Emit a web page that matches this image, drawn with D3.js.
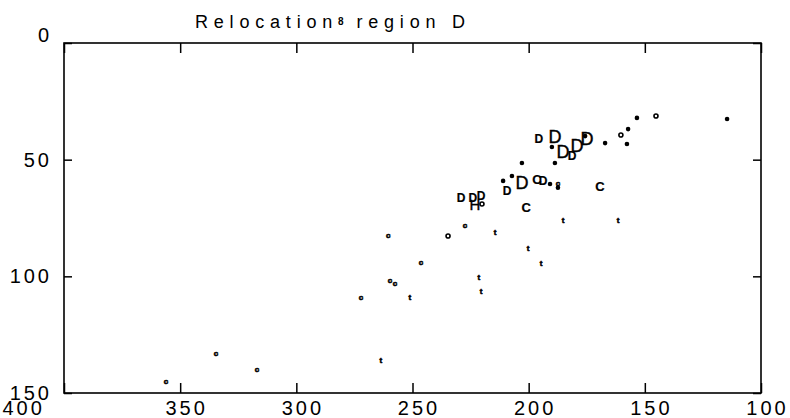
<!DOCTYPE html>
<html>
<head>
<meta charset="utf-8">
<title>Relocations region D</title>
<style>
  body { margin: 0; background: #fff; }
  svg text { font-family: "Liberation Sans", Arial, sans-serif; fill: #000; }
</style>
</head>
<body>
<script src="https://cdnjs.cloudflare.com/ajax/libs/d3/7.8.5/d3.min.js"></script>
<script>
// values: [x, y]
var bigD = [[188.7, 40.3], [185.2, 46.7], [179.2, 44.1], [174.9, 41.1], [202.9, 60.0]];
var smallD = [[195.6, 41.1], [181.3, 48.4], [209.3, 63.4], [193.8, 59.1], [229.1, 66.4], [224.0, 66.4], [220.5, 65.6]];
var letterC = [[196.4, 58.3], [201.1, 70.3], [169.3, 61.3]];
var letterH = [[223.1, 69.4]];
var dots = [[202.9, 51.4], [188.7, 51.4], [190.0, 44.6], [175.7, 39.9], [167.1, 42.9], [157.2, 36.9],
            [157.7, 43.3], [153.4, 32.1], [114.6, 32.6], [211.0, 59.1], [207.2, 57.0], [190.8, 60.4], [187.4, 62.0]];
var rings = [[160.3, 39.4], [145.2, 31.3], [220.1, 69.0], [234.7, 82.7]];
var smallC = [[260.5, 82.7], [227.4, 78.0], [246.3, 93.9], [259.7, 101.6], [257.5, 102.9], [272.2, 108.9],
              [334.6, 132.9], [316.9, 140.1], [356.1, 144.9], [187.4, 60.0]];
var smallT = [[214.5, 81.0], [200.3, 87.9], [194.7, 94.3], [185.2, 75.9], [161.5, 75.9], [221.4, 100.7],
              [220.5, 106.7], [251.1, 108.9], [263.6, 135.9]];
var xTicks = [400, 350, 300, 250, 200, 150, 100];
var yTicks = [0, 50, 100, 150];

var width = 790, height = 418;
var margin = {top: 43, right: 29, bottom: 25, left: 64};

var svg = d3.select("body").append("svg")
    .attr("width", width)
    .attr("height", height);

var x = d3.scaleLinear().domain([400, 100]).range([margin.left, width - margin.right]);
var y = d3.scaleLinear().domain([0, 150]).range([margin.top, height - margin.bottom]);

// title
var title = svg.append("text")
    .attr("x", 195)
    .attr("y", 28)
    .attr("font-size", 18)
    .attr("letter-spacing", 5.8);
title.append("tspan").text("Relocation");
title.append("tspan").attr("font-size", 10).attr("dy", -3).attr("font-weight", "bold")
    .attr("letter-spacing", 2).text("8");
title.append("tspan").attr("dy", 3).text(" region D");

// axes, ticks pointing inward
var gx = svg.append("g")
    .attr("transform", "translate(0," + y(150) + ")")
    .call(d3.axisBottom(x).tickValues(xTicks).tickSizeInner(-10).tickSizeOuter(0).tickPadding(8));
svg.append("g")
    .attr("transform", "translate(0," + y(0) + ")")
    .call(d3.axisTop(x).tickValues(xTicks).tickSizeInner(-10).tickSizeOuter(0).tickFormat(""));
var gy = svg.append("g")
    .attr("transform", "translate(" + x(400) + ",0)")
    .call(d3.axisLeft(y).tickValues(yTicks).tickSizeInner(-8).tickSizeOuter(0).tickPadding(12));
svg.append("g")
    .attr("transform", "translate(" + x(100) + ",0)")
    .call(d3.axisRight(y).tickValues(yTicks).tickSizeInner(-8).tickSizeOuter(0).tickFormat(""));

svg.selectAll(".domain").remove();
svg.selectAll(".tick line").attr("stroke", "#000").attr("stroke-width", 1.5);
svg.selectAll(".tick text")
    .attr("font-family", "Liberation Sans, Arial, sans-serif")
    .attr("font-size", 20)
    .attr("letter-spacing", 3)
    .attr("fill", "#000");
gx.selectAll(".tick text").attr("dx", 6);
gx.selectAll(".tick text").filter(function (d) { return d === 400; })
    .attr("text-anchor", "start").attr("dx", -62);
gy.selectAll(".tick text").filter(function (d) { return d === 0; }).attr("dy", "-0.08em");

// frame
svg.append("rect")
    .attr("x", x(400))
    .attr("y", y(0))
    .attr("width", x(100) - x(400))
    .attr("height", y(150) - y(0))
    .attr("fill", "none")
    .attr("stroke", "#000")
    .attr("stroke-width", 1.6);

// marks (letters stroked so they render as solid black shapes)
function letters(data, ch, size, weight, sw) {
    svg.append("g").selectAll("text")
        .data(data)
        .enter()
        .append("text")
        .attr("x", function (d) { return x(d[0]); })
        .attr("y", function (d) { return y(d[1]); })
        .attr("text-anchor", "middle")
        .attr("dominant-baseline", "central")
        .attr("font-size", size)
        .attr("font-weight", weight)
        .attr("stroke", "#000")
        .attr("stroke-width", sw)
        .text(ch);
}
letters(bigD, "D", 18, "normal", 0.4);
letters(smallD, "D", 12, "bold", 0.2);
letters(letterC, "C", 13, "bold", 0.2);
letters(letterH, "H", 15, "normal", 0.4);
letters(smallC, "c", 8, "bold", 0.6);
letters(smallT, "t", 8, "bold", 0.6);

svg.append("g").selectAll("circle")
    .data(dots)
    .enter()
    .append("circle")
    .attr("cx", function (d) { return x(d[0]); })
    .attr("cy", function (d) { return y(d[1]); })
    .attr("r", 2.3)
    .attr("fill", "#000");

svg.append("g").selectAll("circle")
    .data(rings)
    .enter()
    .append("circle")
    .attr("cx", function (d) { return x(d[0]); })
    .attr("cy", function (d) { return y(d[1]); })
    .attr("r", 2)
    .attr("fill", "#fff")
    .attr("stroke", "#000")
    .attr("stroke-width", 1.6);
</script>
</body>
</html>
